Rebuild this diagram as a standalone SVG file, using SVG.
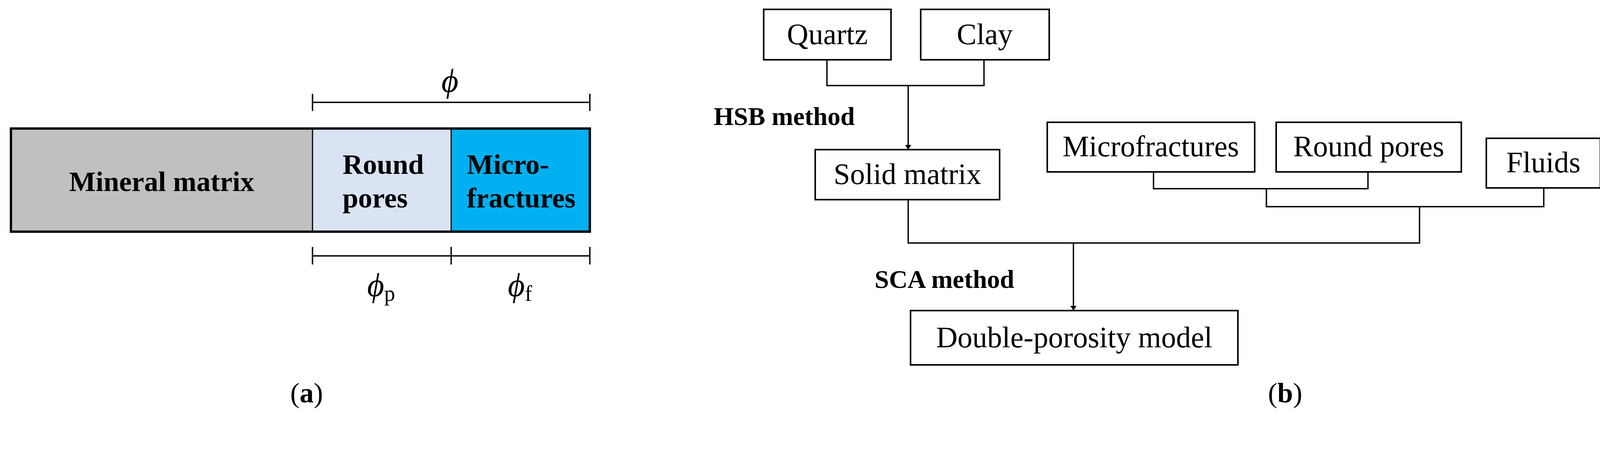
<svg xmlns="http://www.w3.org/2000/svg" width="4102" height="1157" viewBox="0 0 4102 1157">
<style>
text{font-family:"Liberation Serif","Times New Roman",serif;fill:#000}
.b{font-weight:bold}
.n{font-size:76px;text-anchor:middle}
.box{fill:#fff;stroke:#000;stroke-width:4}
.ln{fill:none;stroke:#000;stroke-width:3.5}
.phi{font-style:italic;font-size:84px}
</style>
<defs><marker id="ar" markerWidth="12" markerHeight="20" refX="12" refY="10" orient="auto" markerUnits="userSpaceOnUse"><path d="M0,2 L12,10 L0,18 Z" fill="#000"/></marker></defs>
<g id="panel-a">
<rect x="28" y="329" width="772" height="264" fill="#c0c0c0"/>
<rect x="800" y="329" width="355" height="264" fill="#dae3f3"/>
<rect x="1155" y="329" width="355" height="264" fill="#00b0f0"/>
<rect x="28" y="329" width="1482" height="264" fill="none" stroke="#000" stroke-width="6"/>
<line x1="800" y1="329" x2="800" y2="593" stroke="#000" stroke-width="3"/>
<line x1="1155" y1="329" x2="1155" y2="593" stroke="#000" stroke-width="3"/>
<text class="b" x="414" y="489" font-size="72" text-anchor="middle">Mineral matrix</text>
<text class="b" x="877" y="445" font-size="72">Round</text>
<text class="b" x="877" y="531" font-size="72">pores</text>
<text class="b" x="1195" y="445" font-size="72">Micro-</text>
<text class="b" x="1195" y="531" font-size="72">fractures</text>
<path class="ln" d="M800,262 H1510 M800,240 V284 M1510,240 V284"/>
<text class="phi" x="1130" y="235">ϕ</text>
<path class="ln" d="M800,655 H1510 M800,632 V677 M1155,632 V677 M1510,632 V677"/>
<text class="phi" x="940" y="758">ϕ<tspan font-style="normal" font-size="56" dy="12">p</tspan></text>
<text class="phi" x="1300" y="758">ϕ<tspan font-style="normal" font-size="56" dy="12">f</tspan></text>
<text x="785" y="1030" font-size="72" text-anchor="middle">(<tspan class="b">a</tspan>)</text>
</g>
<g id="quartz"><rect class="box" x="1955" y="24" width="326" height="129"/><text class="n" x="2118" y="113">Quartz</text></g>
<g id="clay"><rect class="box" x="2357" y="24" width="329" height="129"/><text class="n" x="2521" y="113">Clay</text></g>
<g id="solid"><rect class="box" x="2087" y="383" width="472" height="128"/><text class="n" x="2323" y="471">Solid matrix</text></g>
<g id="micro"><rect class="box" x="2681" y="313" width="531" height="127"/><text class="n" x="2946" y="400">Microfractures</text></g>
<g id="round"><rect class="box" x="3267" y="313" width="474" height="127"/><text class="n" x="3504" y="400">Round pores</text></g>
<g id="fluids"><rect class="box" x="3805" y="354" width="292" height="127"/><text class="n" x="3951" y="441">Fluids</text></g>
<g id="double"><rect class="box" x="2331" y="795" width="838" height="139"/><text class="n" x="2750" y="889">Double-porosity model</text></g>
<text class="b" x="1827" y="320" font-size="66">HSB method</text>
<text class="b" x="2239" y="737" font-size="66">SCA method</text>
<text x="3290" y="1030" font-size="72" text-anchor="middle">(<tspan class="b">b</tspan>)</text>
<g id="connectors">
<path class="ln" d="M2117,153 V219 H2519 V153"/>
<path class="ln" d="M2325,219 V383" marker-end="url(#ar)"/>
<path class="ln" d="M2953,440 V483 H3502 V440"/>
<path class="ln" d="M3242,483 V529 H3952 V481"/>
<path class="ln" d="M2325,511 V622 H3634 V529"/>
<path class="ln" d="M2748,622 V795" marker-end="url(#ar)"/>
</g>
</svg>
